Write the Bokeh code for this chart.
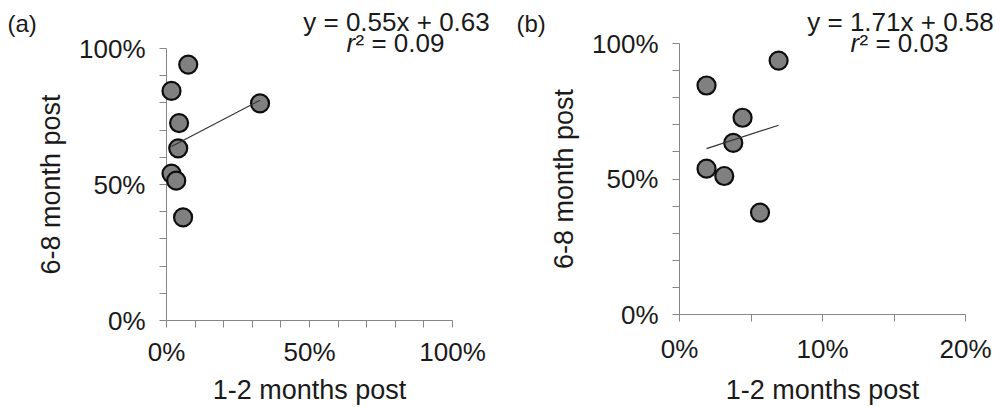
from bokeh.plotting import figure
from bokeh.layouts import row, column
from bokeh.models import FixedTicker, NumeralTickFormatter, ColumnDataSource
from bokeh.core.properties import value
from bokeh.embed import file_html
from bokeh.resources import INLINE

# ---- data ----
xa = [0.076, 0.0175, 0.044, 0.041, 0.0175, 0.034, 0.058, 0.327]
ya = [0.941, 0.844, 0.726, 0.633, 0.540, 0.514, 0.379, 0.798]
xb = [0.0693, 0.0189, 0.0441, 0.0376, 0.0189, 0.0313, 0.0563]
yb = [0.937, 0.845, 0.726, 0.633, 0.538, 0.511, 0.376]
fit_a = (0.55, 0.63, 0.09)
fit_b = (1.71, 0.58, 0.03)
y_ticks = [0, 0.5, 1.0]
y_minor = [0.1, 0.2, 0.3, 0.4, 0.6, 0.7, 0.8, 0.9]
xa_ticks = [0, 0.5, 1.0]
xa_minor = [0.1, 0.2, 0.3, 0.4, 0.6, 0.7, 0.8, 0.9]
xb_ticks = [0, 0.1, 0.2]
xb_minor = [0.05, 0.15]

FONT = "Liberation Sans"
AX = "#868686"
TXT = "#1a1a1a"


def panel(xs, ys, fit, xmax, xt, xm, tag, W, left, right, top, bottom, eq_cx, tag_x,
          xl_stand, xt_stand):
    p = figure(width=W, height=407, x_range=(0, xmax), y_range=(0, 1),
               output_backend="svg", toolbar_location=None,
               min_border_left=left, min_border_right=right,
               min_border_top=top, min_border_bottom=bottom)
    p.outline_line_color = None
    p.grid.visible = False
    for ax, ticks, minor in ((p.xaxis[0], xt, xm), (p.yaxis[0], y_ticks, y_minor)):
        ax.ticker = FixedTicker(ticks=ticks, minor_ticks=minor)
        ax.formatter = NumeralTickFormatter(format="0%")
        ax.axis_line_color = AX
        ax.major_tick_line_color = AX
        ax.minor_tick_line_color = AX
        ax.major_tick_in = 0
        ax.major_tick_out = 7
        ax.minor_tick_in = 0
        ax.minor_tick_out = 7
        ax.major_label_text_font = FONT
        ax.major_label_text_font_size = "26px"
        ax.major_label_text_color = TXT
        ax.axis_label_text_font = FONT
        ax.axis_label_text_font_size = "27px"
        ax.axis_label_text_font_style = "normal"
        ax.axis_label_text_color = TXT
    p.xaxis.axis_label = "1-2 months post"
    p.yaxis.axis_label = "6-8 month post"
    p.xaxis.major_label_standoff = xl_stand
    p.yaxis.major_label_standoff = 14
    p.xaxis.axis_label_standoff = xt_stand
    p.yaxis.axis_label_standoff = 10

    src = ColumnDataSource(dict(x=xs, y=ys))
    p.scatter("x", "y", source=src, size=18, fill_color="#808080",
              line_color="#0d0d0d", line_width=2.2, level="overlay")
    m, b, r2 = fit
    lx = [min(xs), max(xs)]
    p.line(lx, [m * v + b for v in lx], line_color="#333333", line_width=1.2,
           level="overlay")

    def lab(text, cx, cy, size, align="left", style="normal"):
        # cy = vertical middle of the text box, canvas px from top
        p.text(x=[0], y=[1], text=[text], x_offset=cx - left,
               y_offset=cy - top,
               text_font=value(FONT), text_font_size=size, text_align=align,
               text_baseline="middle", text_color=TXT,
               text_font_style=style, level="overlay")

    lab(tag, tag_x, 23, "24px")
    lab("y = %.2fx + %.2f" % (m, b), eq_cx, 21, "26px", align="center")
    r_left = eq_cx - 50
    lab("r", r_left, 42, "26px", style="italic")
    lab("\u00b2 = %.2f" % r2, r_left + 9, 42, "26px")
    return p


pa = panel(xa, ya, fit_a, 1.0, xa_ticks, xa_minor, "(a)", 500, 166, 48, 48, 87, 396, 7, 9, 5)
pb = panel(xb, yb, fit_b, 0.2, xb_ticks, xb_minor, "(b)", 501, 179, 36, 43, 93, 400, 16, 12, 8)

layout = row(column(pa), column(pb))
open("out.html", "w").write(file_html(layout, INLINE))
